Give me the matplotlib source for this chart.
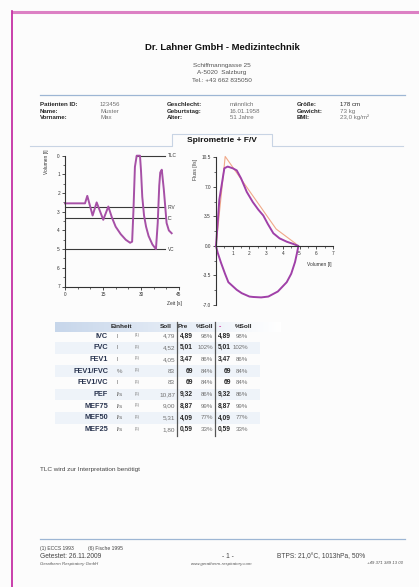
import numpy as np
import matplotlib
matplotlib.use('Agg')
import matplotlib.pyplot as plt
from matplotlib.ticker import MultipleLocator, FixedLocator

plt.rcParams['font.family'] = ['Liberation Sans', 'DejaVu Sans']

W, H = 419, 587

# ---- data -------------------------------------------------------------
# volume-time curve
time_s = [0, 7.9, 8.8, 10.9, 12.5, 15.1, 17.1, 18.5, 20, 22, 24, 25.7, 26.5, 27.0, 27.6,
          28.3, 29.6, 30.0, 30.5, 31.2, 32, 33, 34.5, 35.9, 36.6, 37.2, 37.6, 38.2, 39.0, 40.1, 41.0, 42.1]
vol_l = [2.55, 2.55, 2.15, 3.2, 2.5, 3.43, 2.72, 3.3, 3.8, 4.2, 4.5, 4.66, 4.6, 3.0, 0.6,
         0.0, 0.0, 0.8, 2.2, 3.2, 3.8, 4.3, 4.75, 5.0, 3.6, 1.6, 0.9, 0.75, 1.8, 3.6, 4.0, 4.15]
level_names = ['TLC', 'IRV', 'IC', 'VC']
level_vals = [0.0, 2.75, 3.35, 5.0]
level_start = [28.0, 0, 0, 0]

# flow-volume loop (measured)
fv_vol = [0, 0.2, 0.5, 0.7, 1.0, 1.24, 1.5, 1.84, 2.2, 2.53, 2.83, 3.1, 3.43, 3.8, 4.23, 4.6, 4.93,
          4.85, 4.73, 4.5, 4.23, 3.7, 3.13, 2.7, 2.23, 2.0, 1.54, 1.24, 0.74, 0.54, 0.3, 0.1, 0]
fv_flow = [0, 5.5, 9.2, 9.4, 9.2, 8.95, 8.0, 6.4, 5.2, 4.3, 3.6, 2.6, 1.5, 0.9, 0.5, 0.25, 0,
           -0.8, -1.9, -3.3, -4.3, -5.4, -6.0, -6.1, -6.05, -6.0, -5.6, -5.2, -4.3, -3.3, -2.0, -0.8, 0]
# predicted
pred_vol = [0, 0.55, 3.6, 4.75, 4.9]
pred_flow = [0, 10.6, 2.0, 0.3, 0]

# table
row_names = ['IVC', 'FVC', 'FEV1', 'FEV1/FVC', 'FEV1/VC', 'PEF', 'MEF75', 'MEF50', 'MEF25']
row_units = ['l', 'l', 'l', '%', 'l', 'l/s', 'l/s', 'l/s', 'l/s']
row_refs = ['(1)', '(6)', '(6)', '(6)', '(6)', '(6)', '(6)', '(6)', '(6)']
soll = ['4,79', '4,52', '4,05', '83', '83', '10,87', '9,00', '5,31', '1,80']
pre = ['4,89', '5,01', '3,47', '69', '69', '9,32', '8,87', '4,09', '0,59']
pct = ['98%', '102%', '86%', '84%', '84%', '86%', '99%', '77%', '33%']

patient = [
    [('Patienten ID:', '123456'), ('Geschlecht:', 'männlich'), ('Größe:', '178 cm')],
    [('Name:', 'Muster'), ('Geburtstag:', '16.01.1958'), ('Gewicht:', '73 kg')],
    [('Vorname:', 'Max'), ('Alter:', '51 Jahre'), ('BMI:', '23,0 kg/m²')],
]

# ---- page -------------------------------------------------------------
fig = plt.figure(figsize=(W / 100, H / 100), dpi=100, facecolor='#fcfcfc')
bg = fig.add_axes([0, 0, 1, 1])
bg.set_xlim(0, W)
bg.set_ylim(H, 0)
bg.axis('off')

# magenta page border
bg.plot([12, W], [12, 12], color='#dc80c4', lw=2.2, solid_capstyle='butt')
bg.plot([12, 12], [11, H], color='#c0209e', lw=1.2)

dark = '#262626'
grey = '#707070'
bg.text(222, 48, 'Dr. Lahner GmbH - Medizintechnik', ha='center', va='center',
        fontsize=6.8, fontweight='bold', color='#111111')
for i, s in enumerate(['Schiffmanngasse 25', 'A-5020  Salzburg', 'Tel.: +43 662 835050']):
    bg.text(222, 65 + i * 7.6, s, ha='center', va='center', fontsize=4.6, color='#555555')
bg.plot([40, 405], [95, 95], color='#9db6d4', lw=0.9)

col_x = [(40, 100), (167, 230), (297, 340)]
for r, row in enumerate(patient):
    for c, (lab, val) in enumerate(row):
        y = 105 + r * 6.2
        bg.text(col_x[c][0], y, lab, ha='left', va='center', fontsize=4.4, fontweight='bold', color=dark)
        bg.text(col_x[c][1], y, val, ha='left', va='center', fontsize=4.4,
                color=dark if c == 2 and r == 0 else grey)

# tab header
tabc = '#c8d4e4'
bg.plot([30, 172, 172, 272, 272, 403], [146, 146, 134, 134, 146, 146], color=tabc, lw=0.8)
bg.text(222, 141, 'Spirometrie + F/V', ha='center', va='center', fontsize=6,
        fontweight='bold', color='#111111')


def ax_at(x0, y0, x1, y1):
    return fig.add_axes([x0 / W, 1 - y1 / H, (x1 - x0) / W, (y1 - y0) / H])


def style(ax):
    for s in ['top', 'right']:
        ax.spines[s].set_visible(False)
    for s in ['left', 'bottom']:
        ax.spines[s].set_color('#333333')
        ax.spines[s].set_linewidth(0.8)
    ax.set_facecolor('none')
    ax.tick_params(which='major', length=2.5, width=0.6, labelsize=3.4, pad=1.2, colors='#333333')
    ax.tick_params(which='minor', length=1.5, width=0.5, colors='#333333')


# ---- volume-time plot -------------------------------------------------
ax1 = ax_at(65, 155.7, 179, 286.5)
style(ax1)
ax1.set_xlim(0, 45)
ax1.set_ylim(7, 0)
ax1.xaxis.set_major_locator(FixedLocator([0, 15, 30, 45]))
ax1.xaxis.set_minor_locator(MultipleLocator(5))
ax1.yaxis.set_major_locator(MultipleLocator(1))
ax1.yaxis.set_minor_locator(MultipleLocator(0.5))
for name, v, t0 in zip(level_names, level_vals, level_start):
    ax1.plot([t0, 39.5], [v, v], color='#3a3a3a', lw=0.8, clip_on=False)
    ax1.text(40.6, v, name, ha='left', va='center', fontsize=3.4, color='#333333')
ax1.plot(time_s, vol_l, color='#a650a6', lw=1.4, clip_on=False, solid_joinstyle='round')
ax1.text(46, 7.9, 'Zeit [s]', ha='right', va='center', fontsize=3.5, color='#333333')
ax1.text(-7.5, 0.3, 'Volumen [l]', ha='center', va='center', rotation=90, fontsize=3.5, color='#333333')

# ---- flow-volume plot -------------------------------------------------
ax2 = ax_at(216, 157.3, 333, 305)
style(ax2)
ax2.set_xlim(0, 7)
ax2.set_ylim(-7, 10.5)
ax2.spines['bottom'].set_position(('data', 0))
ax2.xaxis.set_major_locator(FixedLocator([1, 2, 3, 4, 5, 6, 7]))
ax2.xaxis.set_minor_locator(MultipleLocator(0.5))
ax2.yaxis.set_major_locator(MultipleLocator(3.5))
ax2.yaxis.set_minor_locator(MultipleLocator(1.75))
ax2.set_yticks([10.5, 7.0, 3.5, 0.0, -3.5, -7.0])
ax2.set_yticklabels(['10.5', '7.0', '3.5', '0.0', '-3.5', '-7.0'])
ax2.plot(pred_vol, pred_flow, color='#f0a888', lw=0.8, clip_on=False)
ax2.plot(fv_vol, fv_flow, color='#a040a8', lw=1.4, clip_on=False)
ax2.text(6.9, -2.2, 'Volumen [l]', ha='right', va='center', fontsize=3.5, color='#333333')
ax2.text(-1.2, 9.0, 'Fluss [l/s]', ha='center', va='center', rotation=90, fontsize=3.5, color='#333333')

# ---- table ------------------------------------------------------------
grad = np.linspace(0, 1, 100)[np.newaxis, :]
bg.imshow(np.dstack([0.78 + 0.22 * grad, 0.84 + 0.16 * grad, 0.92 + 0.08 * grad]),
          extent=[55, 280, 332, 322], aspect='auto', zorder=0)
row_y = [336 + 11.7 * i for i in range(len(row_names))]
for i, y in enumerate(row_y):
    if i % 2 == 1:
        bg.fill_between([55, 260], y - 5.8, y + 5.8, color='#eef3f9', lw=0, zorder=0)

hy = 327
bg.text(121, hy, 'Einheit', ha='center', va='center', fontsize=4.6, fontweight='bold', color=dark)
bg.text(172, hy, 'Soll', ha='right', va='center', fontsize=4.6, fontweight='bold', color=dark)
bg.text(178, hy, 'Pre', ha='left', va='center', fontsize=4.6, fontweight='bold', color=dark)
bg.text(213, hy, '%Soll', ha='right', va='center', fontsize=4.6, fontweight='bold', color=dark)
bg.text(219, hy, '-', ha='left', va='center', fontsize=5, fontweight='bold', color='#d0309c')
bg.text(252, hy, '%Soll', ha='right', va='center', fontsize=4.6, fontweight='bold', color=dark)
for xv in [176.5, 214.5]:
    bg.plot([xv, xv], [322, row_y[-1] + 6], color='#555555', lw=0.9)

for i, y in enumerate(row_y):
    bg.text(108, y, row_names[i], ha='right', va='center', fontsize=5.3, fontweight='bold', color='#2a3550')
    bg.text(117, y, row_units[i], ha='left', va='center', fontsize=4.4, color=grey)
    bg.text(137, y - 1, row_refs[i], ha='center', va='center', fontsize=2.8, color=grey)
    bg.text(175, y, soll[i], ha='right', va='center', fontsize=4.6, color=grey)
    bg.text(193, y, pre[i], ha='right', va='center', fontsize=4.8, fontweight='bold', color=dark)
    bg.text(213, y, pct[i], ha='right', va='center', fontsize=4.4, color=grey)
    bg.text(231, y, pre[i], ha='right', va='center', fontsize=4.8, fontweight='bold', color=dark)
    bg.text(248, y, pct[i], ha='right', va='center', fontsize=4.4, color=grey)

bg.text(40, 470, 'TLC wird zur Interpretation benötigt', ha='left', va='center', fontsize=4.6, color='#444444')

# ---- footer -----------------------------------------------------------
bg.plot([40, 405], [539, 539], color='#9db6d4', lw=0.9)
bg.text(40, 548.5, '(1) ECCS 1993', ha='left', va='center', fontsize=3.6, color='#444444')
bg.text(88, 548.5, '(6) Fische 1995', ha='left', va='center', fontsize=3.6, color='#444444')
bg.text(40, 557, 'Getestet: 26.11.2009', ha='left', va='center', fontsize=4.8, color='#444444')
bg.text(228, 557, '- 1 -', ha='center', va='center', fontsize=4.8, color='#444444')
bg.text(277, 557, 'BTPS: 21,0°C, 1013hPa, 50%', ha='left', va='center', fontsize=4.8, color='#444444')
bg.text(40, 563.5, 'Geratherm Respiratory GmbH', ha='left', va='center', fontsize=3.2,
        style='italic', color='#555555')
bg.text(222, 563.5, 'www.geratherm-respiratory.com', ha='center', va='center', fontsize=3.2,
        style='italic', color='#555555')
bg.text(403, 563.5, '+49 371 389 13 00', ha='right', va='center', fontsize=3.2,
        style='italic', color='#555555')

fig.savefig('out.png', dpi=100, facecolor=fig.get_facecolor())
